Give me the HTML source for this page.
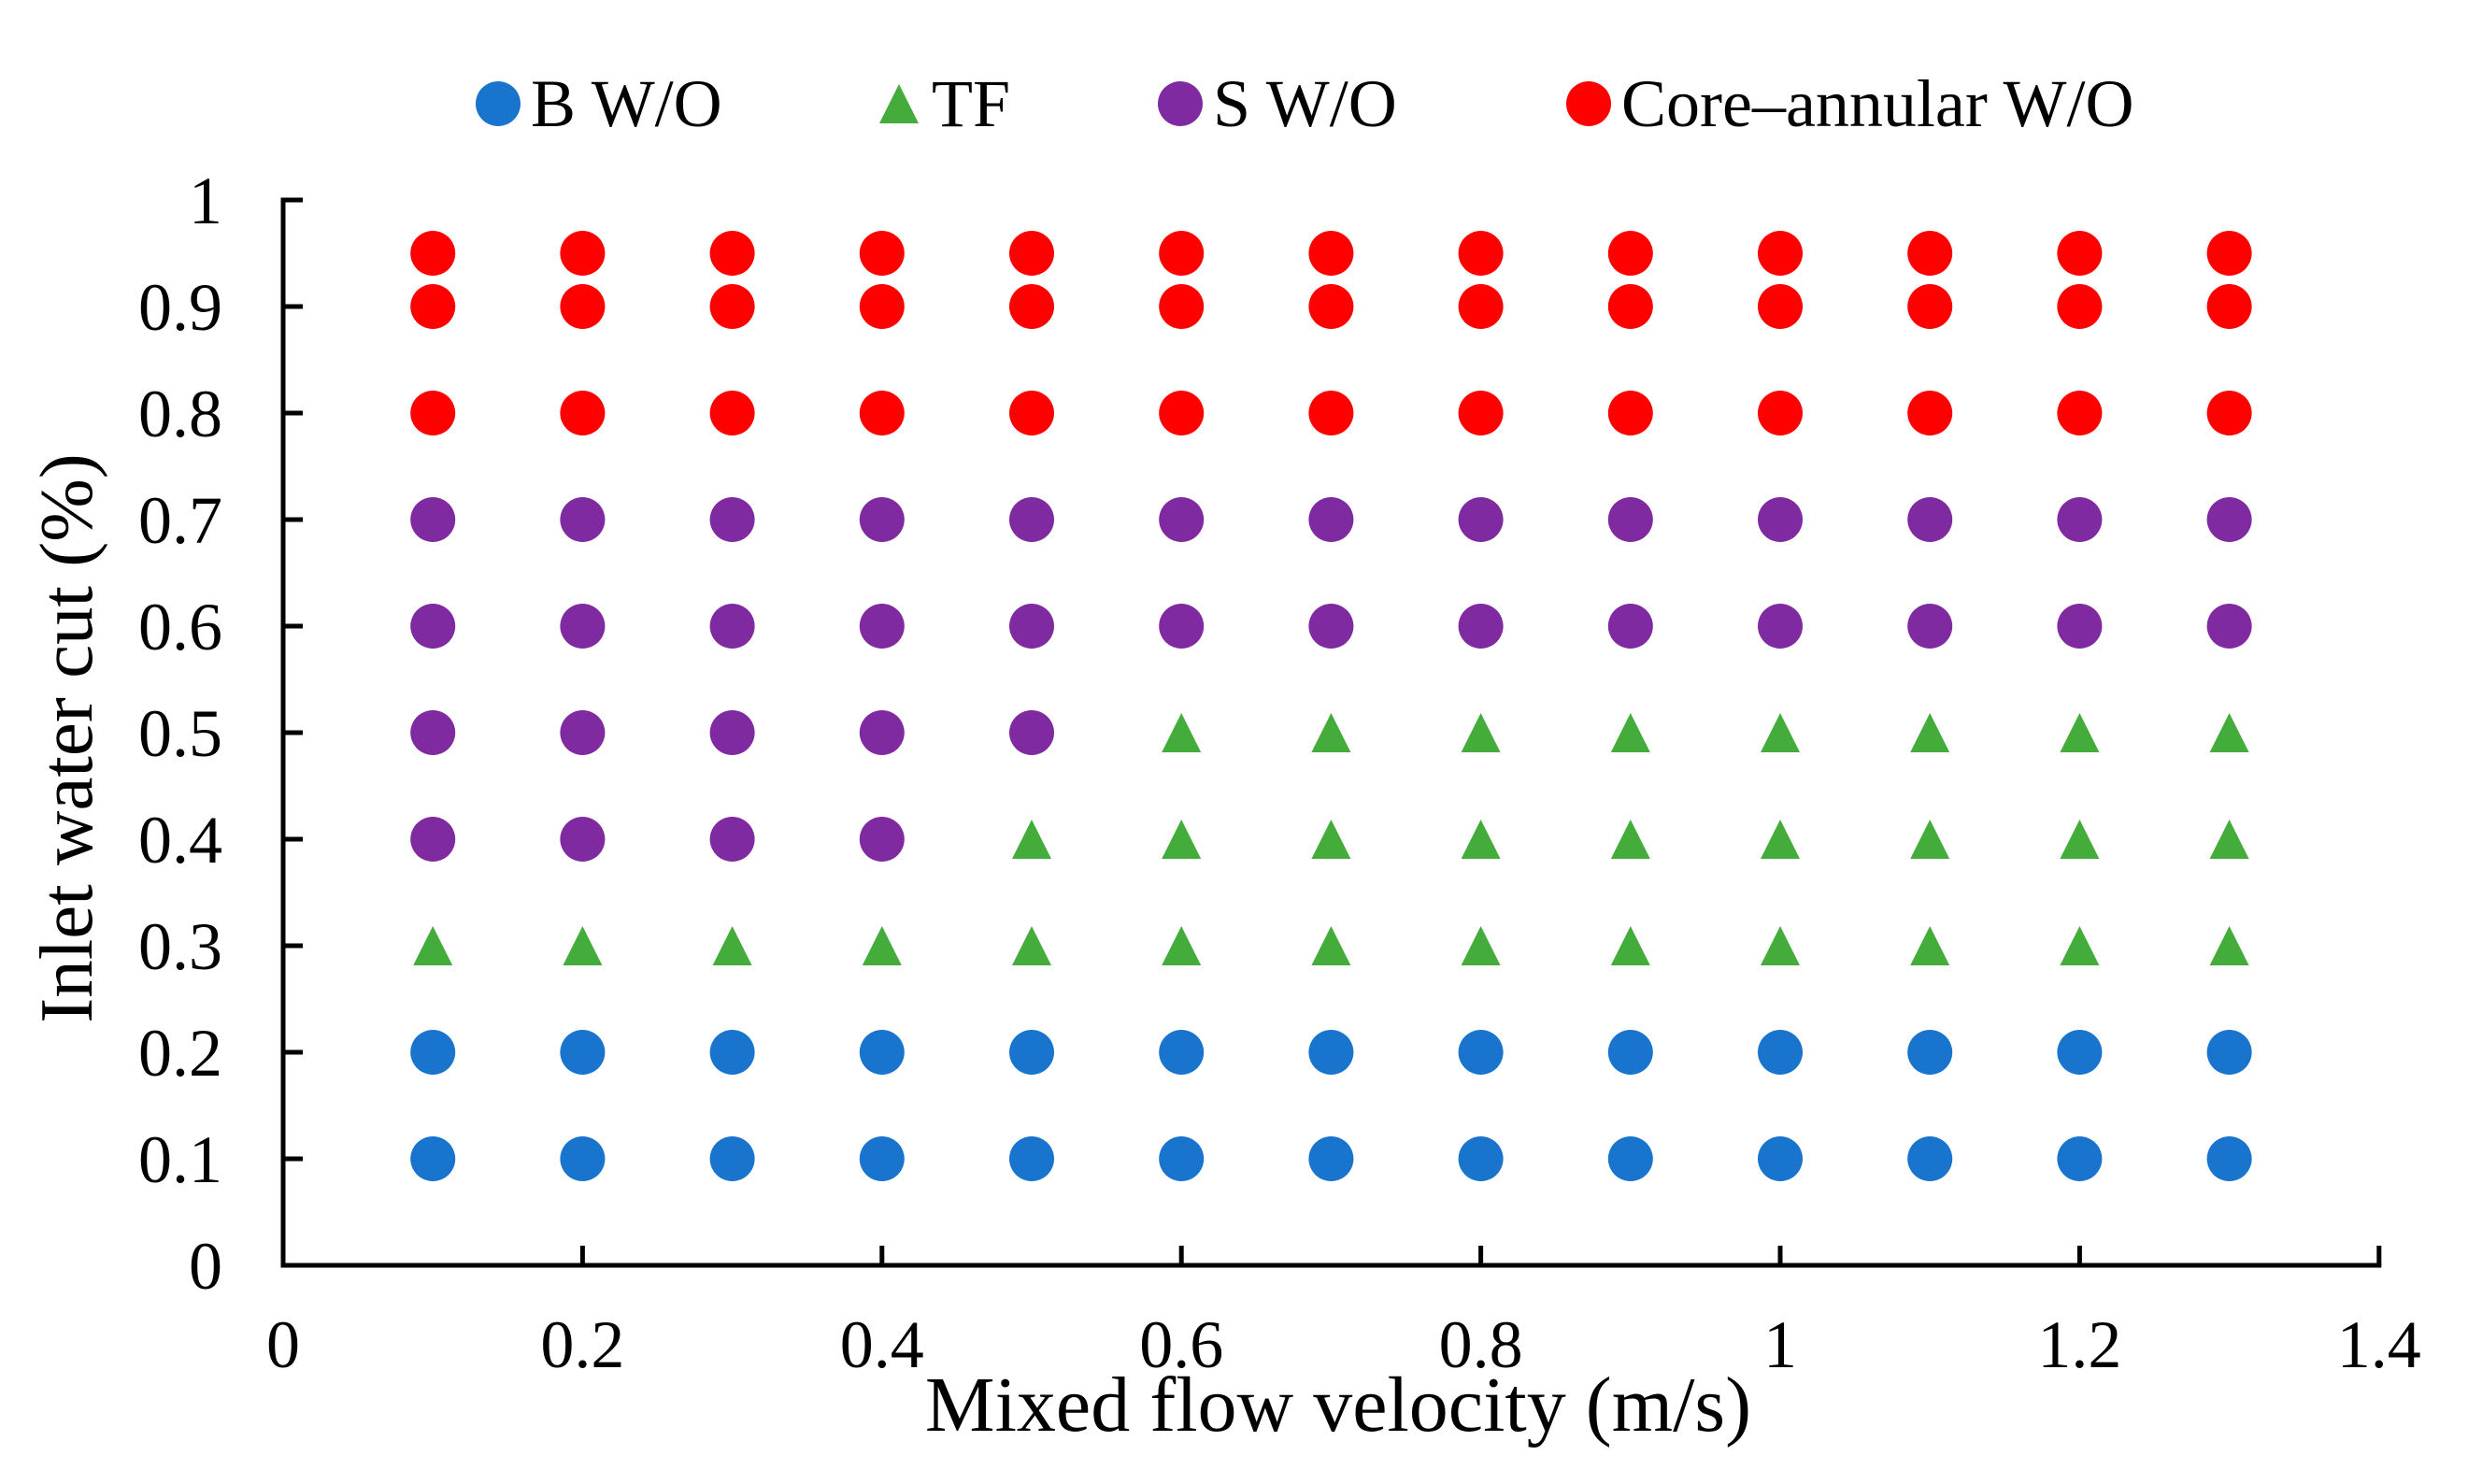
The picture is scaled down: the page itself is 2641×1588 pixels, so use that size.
<!DOCTYPE html>
<html><head><meta charset="utf-8"><style>
html,body{margin:0;padding:0;background:#fff;}
svg{display:block;font-family:"Liberation Serif",serif;}
</style></head><body>
<svg id="chart" width="2641" height="1588" viewBox="0 0 2641 1588" xmlns="http://www.w3.org/2000/svg">
<rect width="2641" height="1588" fill="#fff"/>
<g id="legend" font-size="72">
  <g><ellipse cx="533" cy="111" rx="24" ry="24" fill="#1874CD"/><text x="568" y="135">B W/O</text></g>
  <g><polygon points="962,90 983,132 941,132" fill="#43AC3A"/><text x="997" y="135">TF</text></g>
  <g><ellipse cx="1263" cy="111" rx="24" ry="24" fill="#7F2AA0"/><text x="1298" y="135">S W/O</text></g>
  <g><ellipse cx="1700" cy="111" rx="24" ry="24" fill="#FF0000"/><text x="1735" y="135">Core–annular W/O</text></g>
</g>
<g id="axes"></g>
<g id="marks"></g>
<text x="1432" y="1531" font-size="84" text-anchor="middle">Mixed flow velocity (m/s)</text>
<text transform="translate(98,790) rotate(-90)" font-size="81" text-anchor="middle">Inlet water cut (%)</text>
</svg>
<script>
const xTicks = [0, 0.2, 0.4, 0.6, 0.8, 1, 1.2, 1.4];
const xTickLabels = ["0", "0.2", "0.4", "0.6", "0.8", "1", "1.2", "1.4"];
const yTicks = [0, 0.1, 0.2, 0.3, 0.4, 0.5, 0.6, 0.7, 0.8, 0.9, 1];
const yTickLabels = ["0", "0.1", "0.2", "0.3", "0.4", "0.5", "0.6", "0.7", "0.8", "0.9", "1"];
const velocities = [0.1, 0.2, 0.3, 0.4, 0.5, 0.6, 0.7, 0.8, 0.9, 1.0, 1.1, 1.2, 1.3];
const bwoX = [0.1,0.2,0.3,0.4,0.5,0.6,0.7,0.8,0.9,1.0,1.1,1.2,1.3, 0.1,0.2,0.3,0.4,0.5,0.6,0.7,0.8,0.9,1.0,1.1,1.2,1.3];
const bwoY = [0.1,0.1,0.1,0.1,0.1,0.1,0.1,0.1,0.1,0.1,0.1,0.1,0.1, 0.2,0.2,0.2,0.2,0.2,0.2,0.2,0.2,0.2,0.2,0.2,0.2,0.2];
const tfX = [0.1,0.2,0.3,0.4,0.5,0.6,0.7,0.8,0.9,1.0,1.1,1.2,1.3, 0.5,0.6,0.7,0.8,0.9,1.0,1.1,1.2,1.3, 0.6,0.7,0.8,0.9,1.0,1.1,1.2,1.3];
const tfY = [0.3,0.3,0.3,0.3,0.3,0.3,0.3,0.3,0.3,0.3,0.3,0.3,0.3, 0.4,0.4,0.4,0.4,0.4,0.4,0.4,0.4,0.4, 0.5,0.5,0.5,0.5,0.5,0.5,0.5,0.5];
const swoX = [0.1,0.2,0.3,0.4, 0.1,0.2,0.3,0.4,0.5, 0.1,0.2,0.3,0.4,0.5,0.6,0.7,0.8,0.9,1.0,1.1,1.2,1.3, 0.1,0.2,0.3,0.4,0.5,0.6,0.7,0.8,0.9,1.0,1.1,1.2,1.3];
const swoY = [0.4,0.4,0.4,0.4, 0.5,0.5,0.5,0.5,0.5, 0.6,0.6,0.6,0.6,0.6,0.6,0.6,0.6,0.6,0.6,0.6,0.6,0.6, 0.7,0.7,0.7,0.7,0.7,0.7,0.7,0.7,0.7,0.7,0.7,0.7,0.7];
const coreLevels = [0.8, 0.9, 0.95];

const NS = "http://www.w3.org/2000/svg";
const X0 = 303, XS = 1602, Y0 = 1354, YS = 1140;
function sx(v){ return X0 + v * XS; }
function sy(v){ return Y0 - v * YS; }
function mk(tag, attrs, parent){ const e = document.createElementNS(NS, tag); for (const k in attrs) e.setAttribute(k, attrs[k]); parent.appendChild(e); return e; }

const axes = document.getElementById('axes');
let yl = mk('line', {x1: sx(0), y1: sy(0)+2.5, x2: sx(0), y2: sy(1)-2.5, stroke: '#000', 'stroke-width': 5}, axes);


let xl = mk('line', {x1: sx(0)-2.5, y1: sy(0), x2: sx(1.4)+2.5, y2: sy(0), stroke: '#000', 'stroke-width': 5}, axes);



yTicks.forEach((v, i) => {
  const t = mk('line', {x1: sx(0), y1: sy(v), x2: sx(0)+21, y2: sy(v), stroke: '#000', 'stroke-width': 5}, axes);
  
  
  const l = mk('text', {x: 238, y: sy(v)+25, 'font-size': 72, 'text-anchor': 'end'}, axes);
  l.textContent = yTickLabels[i];
  
  
});
xTicks.forEach((v, i) => {
  if (v > 0) {
    const t = mk('line', {x1: sx(v), y1: sy(0), x2: sx(v), y2: sy(0)-21, stroke: '#000', 'stroke-width': 5}, axes);
    
    
  }
  const l = mk('text', {x: sx(v), y: 1463, 'font-size': 72, 'text-anchor': 'middle'}, axes);
  l.textContent = xTickLabels[i];
  
  
});

const marks = document.getElementById('marks');
function circle(x, y, color, name){
  const c = mk('circle', {cx: sx(x), cy: sy(y), r: 24, fill: color}, marks);
  
  
}
function tri(x, y, name){
  const cx = sx(x), cy = sy(y);
  const p = mk('polygon', {points: `${cx},${cy-21} ${cx+21},${cy+21} ${cx-21},${cy+21}`, fill: '#43AC3A'}, marks);
  
  
}
bwoX.forEach((x, i) => circle(x, bwoY[i], '#1874CD', 'point-b-wo'));
swoX.forEach((x, i) => circle(x, swoY[i], '#7F2AA0', 'point-s-wo'));
tfX.forEach((x, i) => tri(x, tfY[i], 'point-tf'));
coreLevels.forEach(y => velocities.forEach(x => circle(x, y, '#FF0000', 'point-core-annular-wo')));
</script>
</body></html>
